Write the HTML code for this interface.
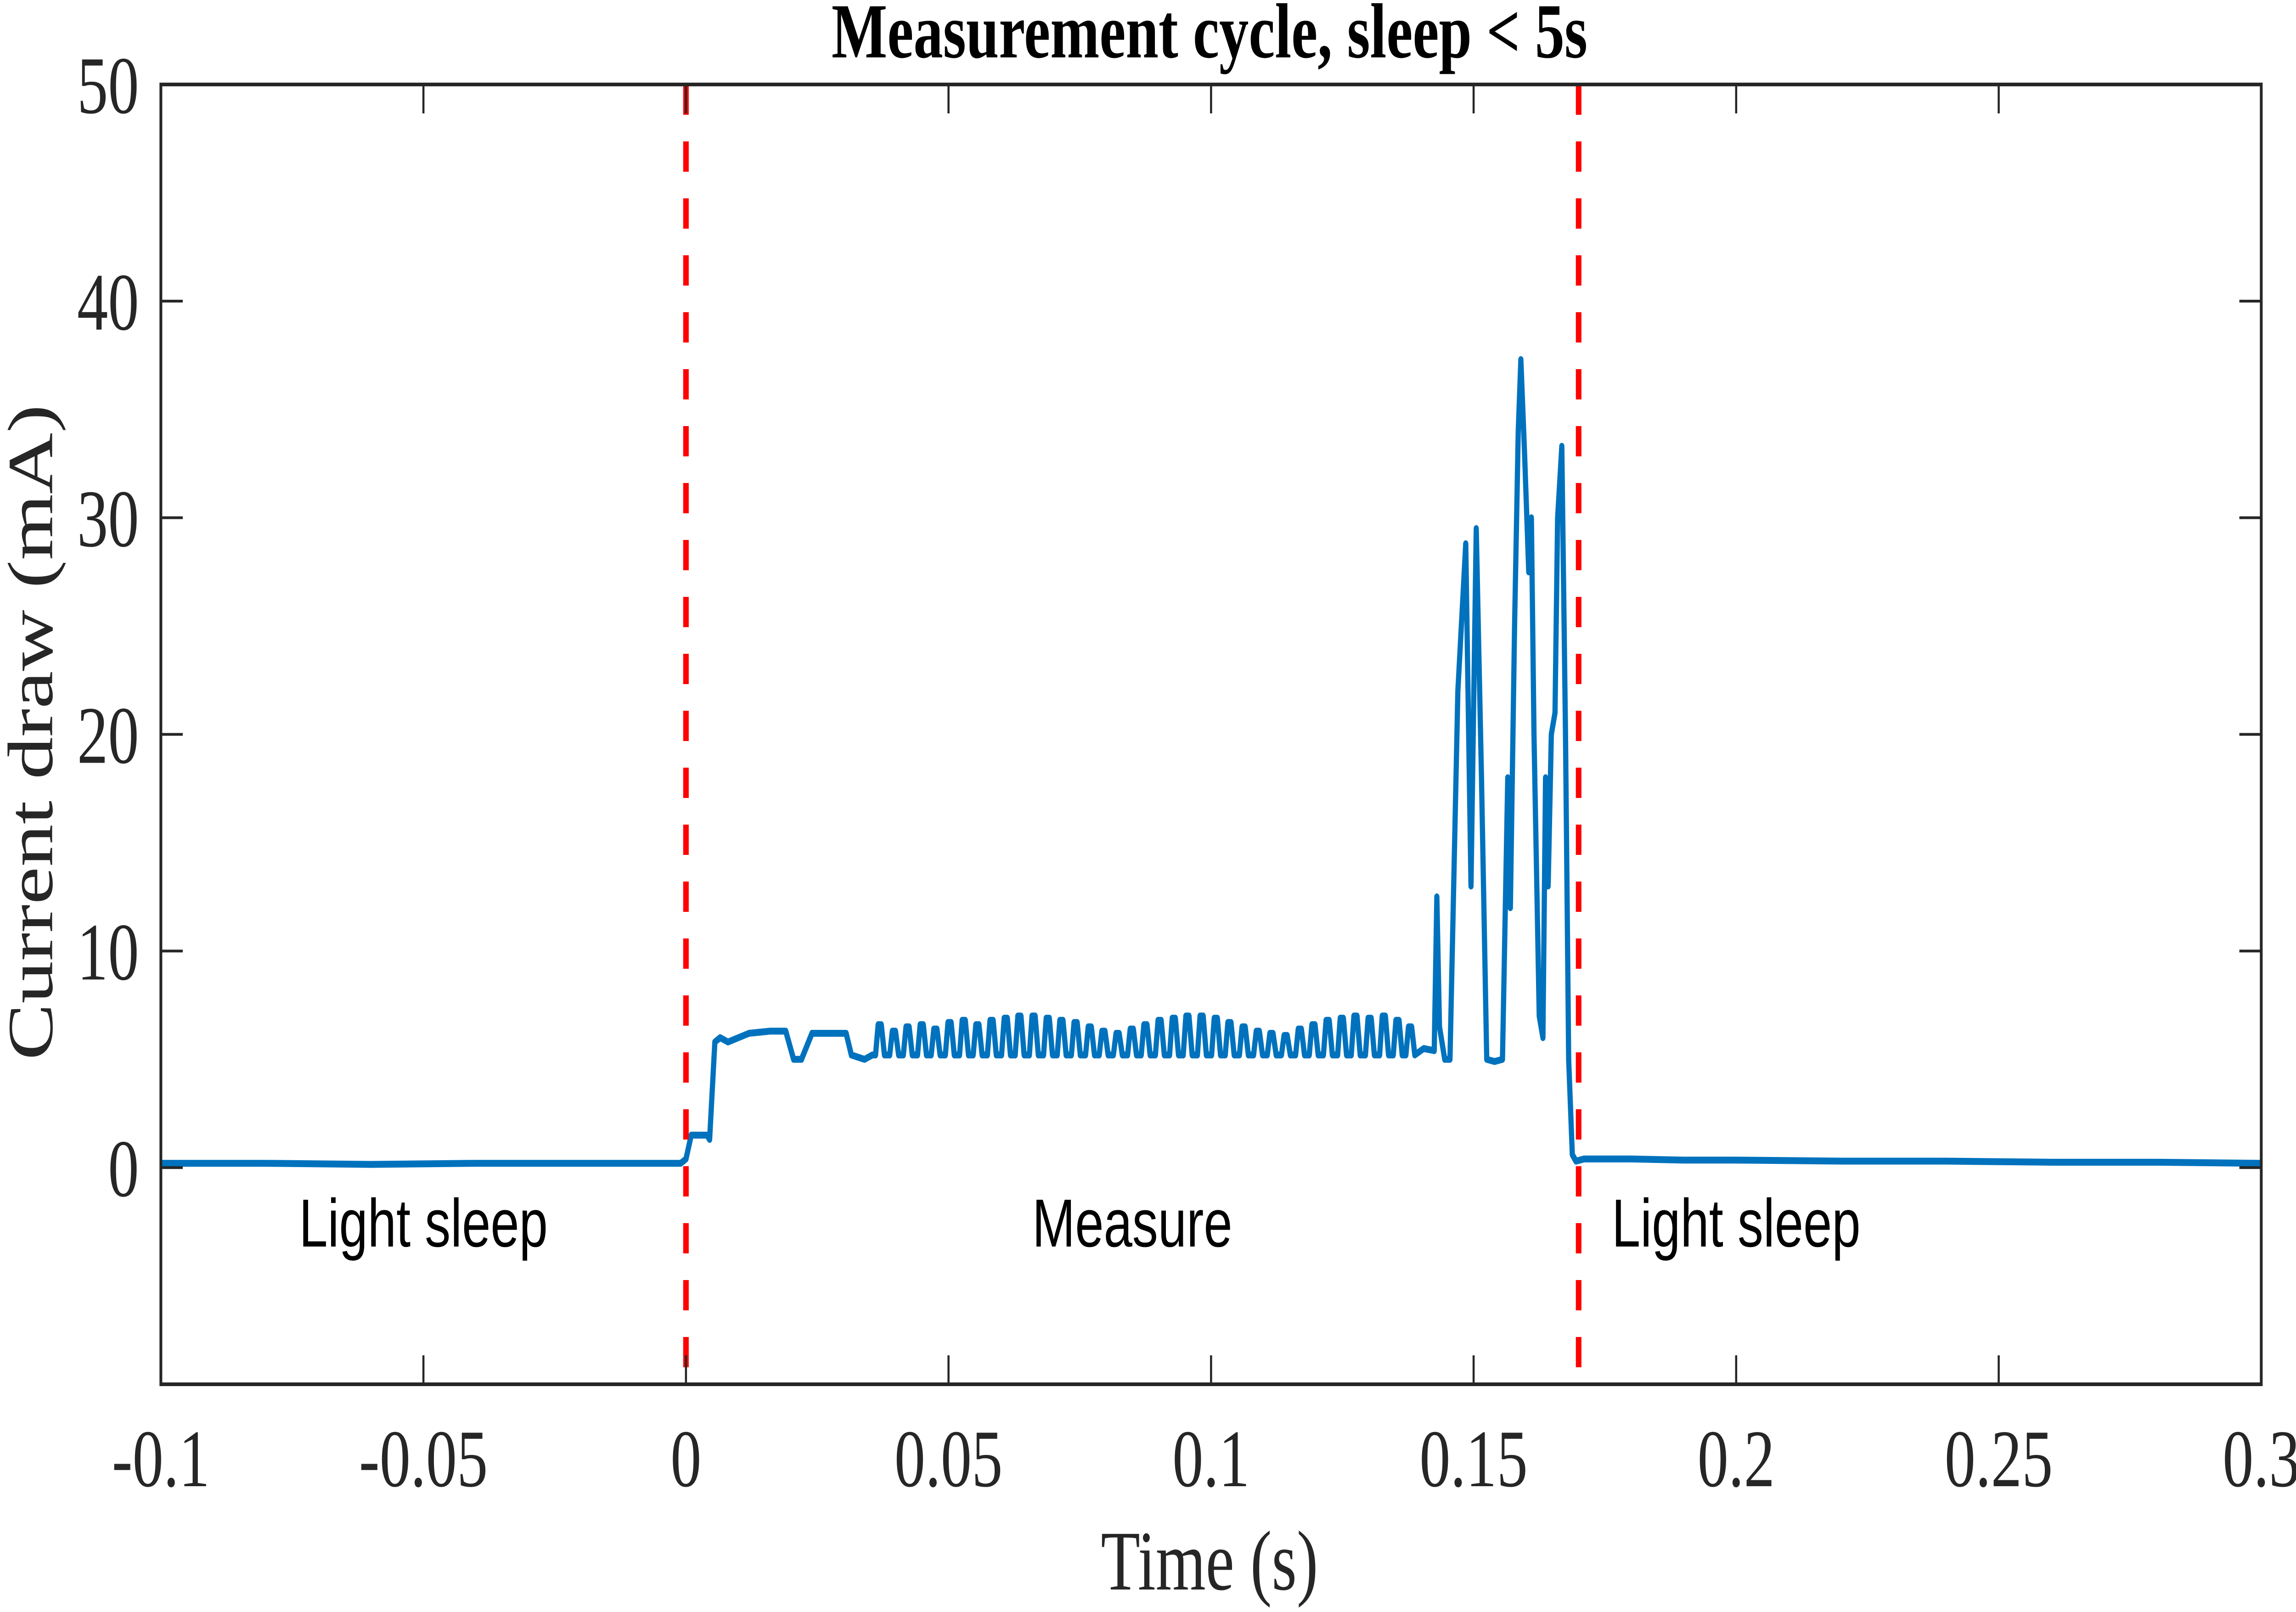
<!DOCTYPE html>
<html><head><meta charset="utf-8"><style>
html,body{margin:0;padding:0;background:#fff;width:100%;height:100%;overflow:hidden;}
#chart{position:fixed;left:0;top:0;width:100vw;height:100vh;display:block;}
</style></head><body>
<svg id="chart" viewBox="0 0 6608 3511" preserveAspectRatio="none" xmlns="http://www.w3.org/2000/svg">
<rect x="0" y="0" width="6608" height="3511" fill="#fff"/>
<g id="marks"></g>
<g id="axes"></g>
<text x="3481" y="125" text-anchor="middle" font-family="'Liberation Serif','Times New Roman',serif" font-weight="bold" font-size="170" fill="#000">Measurement cycle, sleep &lt; 5s</text>
<text x="3481" y="3462" text-anchor="middle" font-family="'Liberation Serif','Times New Roman',serif" font-size="185" fill="#262626">Time (s)</text>
<text transform="translate(150,1595) rotate(-90)" text-anchor="middle" font-family="'Liberation Serif','Times New Roman',serif" font-size="185" fill="#262626">Current draw (mA)</text>
</svg>
<script>
const xTicks = [-0.1,-0.05,0,0.05,0.1,0.15,0.2,0.25,0.3];
const xTickLabels = ["-0.1","-0.05","0","0.05","0.1","0.15","0.2","0.25","0.3"];
const yTicks = [0,10,20,30,40,50];
const yTickLabels = ["0","10","20","30","40","50"];
const phaseLines = [0,0.17];
const phaseLabels = ["Light sleep","Measure","Light sleep"];
const phaseLabelX = [-0.05,0.085,0.2];
// main trace key points
const traceT = [-0.1,-0.08,-0.06,-0.04,-0.02,-0.001,0.0,0.001,0.004,0.0045,0.0055,0.0065,0.008,0.012,0.016,0.019,0.0205,0.022,0.024,0.028,0.0305,0.0315,0.034,0.0355];
const traceV = [0.2,0.2,0.15,0.2,0.2,0.2,0.4,1.5,1.5,1.3,5.8,6.0,5.8,6.2,6.3,6.3,5.0,5.0,6.2,6.2,6.2,5.2,5.0,5.2];
// oscillation peaks during measurement
const peakT = [0.037,0.0397,0.0423,0.045,0.0476,0.0503,0.053,0.0556,0.0583,0.061,0.0636,0.0663,0.069,0.0716,0.0743,0.077,0.0796,0.0823,0.085,0.0876,0.0903,0.093,0.0956,0.0983,0.101,0.1036,0.1063,0.109,0.1116,0.1143,0.117,0.1196,0.1223,0.125,0.1276,0.1303,0.133,0.1356,0.138];
const peakV = [6.6,6.3,6.5,6.6,6.4,6.7,6.8,6.6,6.8,6.9,7.0,7.0,6.9,6.8,6.7,6.5,6.3,6.2,6.4,6.6,6.8,6.9,7.0,7.0,6.9,6.7,6.5,6.3,6.2,6.1,6.4,6.6,6.8,6.9,7.0,6.9,7.0,6.8,6.5];
const baseV = 5.2;
// end burst
const burstT = [0.1405,0.1425,0.143,0.1435,0.1445,0.1455,0.147,0.1485,0.1495,0.1505,0.1515,0.1525,0.154,0.1555,0.1565,0.157,0.1578,0.1585,0.159,0.1597,0.1605,0.161,0.1615,0.1625,0.1632,0.1637,0.1642,0.1648,0.1655,0.166,0.1668,0.1675,0.1681,0.1688,0.1695,0.171,0.175,0.18,0.19,0.2,0.22,0.24,0.26,0.28,0.3];
const burstV = [5.5,5.4,12.5,6.5,5.0,5.0,22.0,28.8,13.0,29.5,18.0,5.0,4.9,5.0,18.0,12.0,25.0,34.0,37.3,33.0,27.5,30.0,20.0,7.0,6.0,18.0,13.0,20.0,21.0,30.0,33.3,20.0,5.0,0.6,0.3,0.4,0.4,0.4,0.35,0.35,0.3,0.3,0.25,0.25,0.2];

const L=463,R=6508,T=184,B=3015;
function X(t){return L+(t-(-0.1))/(0.4)*(R-L);}
function Y(v){return B-(v-(-10))/60*(B-T);}
const NS="http://www.w3.org/2000/svg";
function mk(tag,attrs,parent){const e=document.createElementNS(NS,tag);for(const k in attrs)e.setAttribute(k,attrs[k]);parent.appendChild(e);return e;}
const marks=document.getElementById('marks'), axes=document.getElementById('axes');

let pts=[];
for(let i=0;i<traceT.length;i++)pts.push([traceT[i],traceV[i]]);
for(let i=0;i<peakT.length;i++){pts.push([peakT[i]-0.0009,baseV]);pts.push([peakT[i]-0.0004,peakV[i]]);pts.push([peakT[i]+0.0002,peakV[i]]);pts.push([peakT[i]+0.0008,baseV]);}
for(let i=0;i<burstT.length;i++)pts.push([burstT[i],burstV[i]]);
const d=pts.map((p,i)=>(i?'L':'M')+X(p[0]).toFixed(1)+' '+Y(p[1]).toFixed(1)).join(' ');
const line=mk('path',{d:d,fill:'none',stroke:'#0072BD','stroke-width':15,'stroke-linejoin':'round'},marks);



phaseLines.forEach((t,i)=>{
  const l=mk('line',{x1:X(t),x2:X(t),y1:T,y2:B,stroke:'#ff0000','stroke-width':16,'stroke-dasharray':'66 58'},marks);
  
  
});
phaseLabels.forEach((s,i)=>{
  const tx=mk('text',{x:X(phaseLabelX[i]),y:2715,'text-anchor':'middle','font-family':'"Liberation Sans",Arial,sans-serif','font-size':148,fill:'#000'},marks);
  tx.textContent=s;
  
  
});

const fr=mk('rect',{x:L,y:T,width:R-L,height:B-T,fill:'none',stroke:'#262626','stroke-width':8},axes);


const serif='"Liberation Serif","Times New Roman",serif';
xTicks.forEach((t,i)=>{
  const x=X(t);
  mk('line',{x1:x,x2:x,y1:B,y2:B-63,stroke:'#262626','stroke-width':6},axes);
  mk('line',{x1:x,x2:x,y1:T,y2:T+63,stroke:'#262626','stroke-width':6},axes);
  const tx=mk('text',{x:x,y:3237,'text-anchor':'middle','font-family':serif,'font-size':178,fill:'#262626'},axes);
  tx.textContent=xTickLabels[i];
  
  
});
yTicks.forEach((v,i)=>{
  const y=Y(v);
  mk('line',{x1:L,x2:L+63,y1:y,y2:y,stroke:'#262626','stroke-width':6},axes);
  mk('line',{x1:R,x2:R-63,y1:y,y2:y,stroke:'#262626','stroke-width':6},axes);
  const tx=mk('text',{x:400,y:y+62,'text-anchor':'end','font-family':serif,'font-size':178,fill:'#262626'},axes);
  tx.textContent=yTickLabels[i];
  
  
});
</script>
</body></html>
